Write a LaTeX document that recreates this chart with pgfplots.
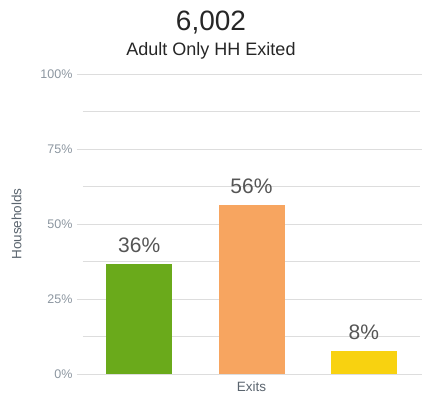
\documentclass[border=0pt]{standalone}
\usepackage{pgfplots}
\pgfplotsset{compat=1.18}
\usepackage{fontspec}
\setmainfont{Liberation Sans}
\definecolor{gridgray}{RGB}{221,221,221}
\definecolor{tickgray}{RGB}{140,150,160}
\definecolor{labgray}{RGB}{85,85,85}
\definecolor{axgray}{RGB}{90,100,110}
\definecolor{cgreen}{RGB}{106,170,27}
\definecolor{corange}{RGB}{247,165,96}
\definecolor{cyellow}{RGB}{248,210,16}
\begin{document}
\begin{tikzpicture}
\path[use as bounding box] (-83pt,-26pt) rectangle (339pt,374pt);
\begin{axis}[
  at={(0,0)}, anchor=south west,
  scale only axis,
  width=337pt, height=300pt,
  xmin=-0.5, xmax=2.5,
  ymin=0, ymax=100,
  ybar, bar width=66pt, bar shift=0pt,
  xtick=\empty,
  ytick={0,25,50,75,100},
  yticklabels={0\%,25\%,50\%,75\%,100\%},
  minor y tick num=1,
  minor tick length=0pt,
  major tick length=6pt,
  tick align=outside,
  ytick style={gridgray, line width=1pt},
  ymajorgrids, yminorgrids,
  major grid style={gridgray, line width=1pt},
  minor grid style={gridgray, line width=1pt},
  axis line style={draw=none},
  /pgf/number format/assume math mode=true,
  yticklabel style={font=\fontsize{12.5}{14}\selectfont, text=tickgray, xshift=-1pt},
  xlabel={Exits},
  xlabel style={font=\fontsize{13.5}{15}\selectfont, text=axgray, yshift=2pt},
  ylabel={Households},
  ylabel style={font=\fontsize{13.5}{15}\selectfont, text=axgray, yshift=12pt},
  point meta=explicit symbolic,
  nodes near coords,
  nodes near coords style={font=\fontsize{21}{23}\selectfont, text=labgray, anchor=south, yshift=8pt},
]
\addplot[fill=cgreen, draw=none] coordinates {(0,36.6) [36\%]};
\addplot[fill=corange, draw=none] coordinates {(1,56.3) [56\%]};
\addplot[fill=cyellow, draw=none] coordinates {(2,7.7) [8\%]};
\end{axis}
\node[font=\fontsize{28}{30}\selectfont, text=black!85] at (128pt,351pt) {6,002};
\node[font=\fontsize{18}{20}\selectfont, text=black!85] at (128pt,323pt) {Adult Only HH Exited};
\end{tikzpicture}
\end{document}
